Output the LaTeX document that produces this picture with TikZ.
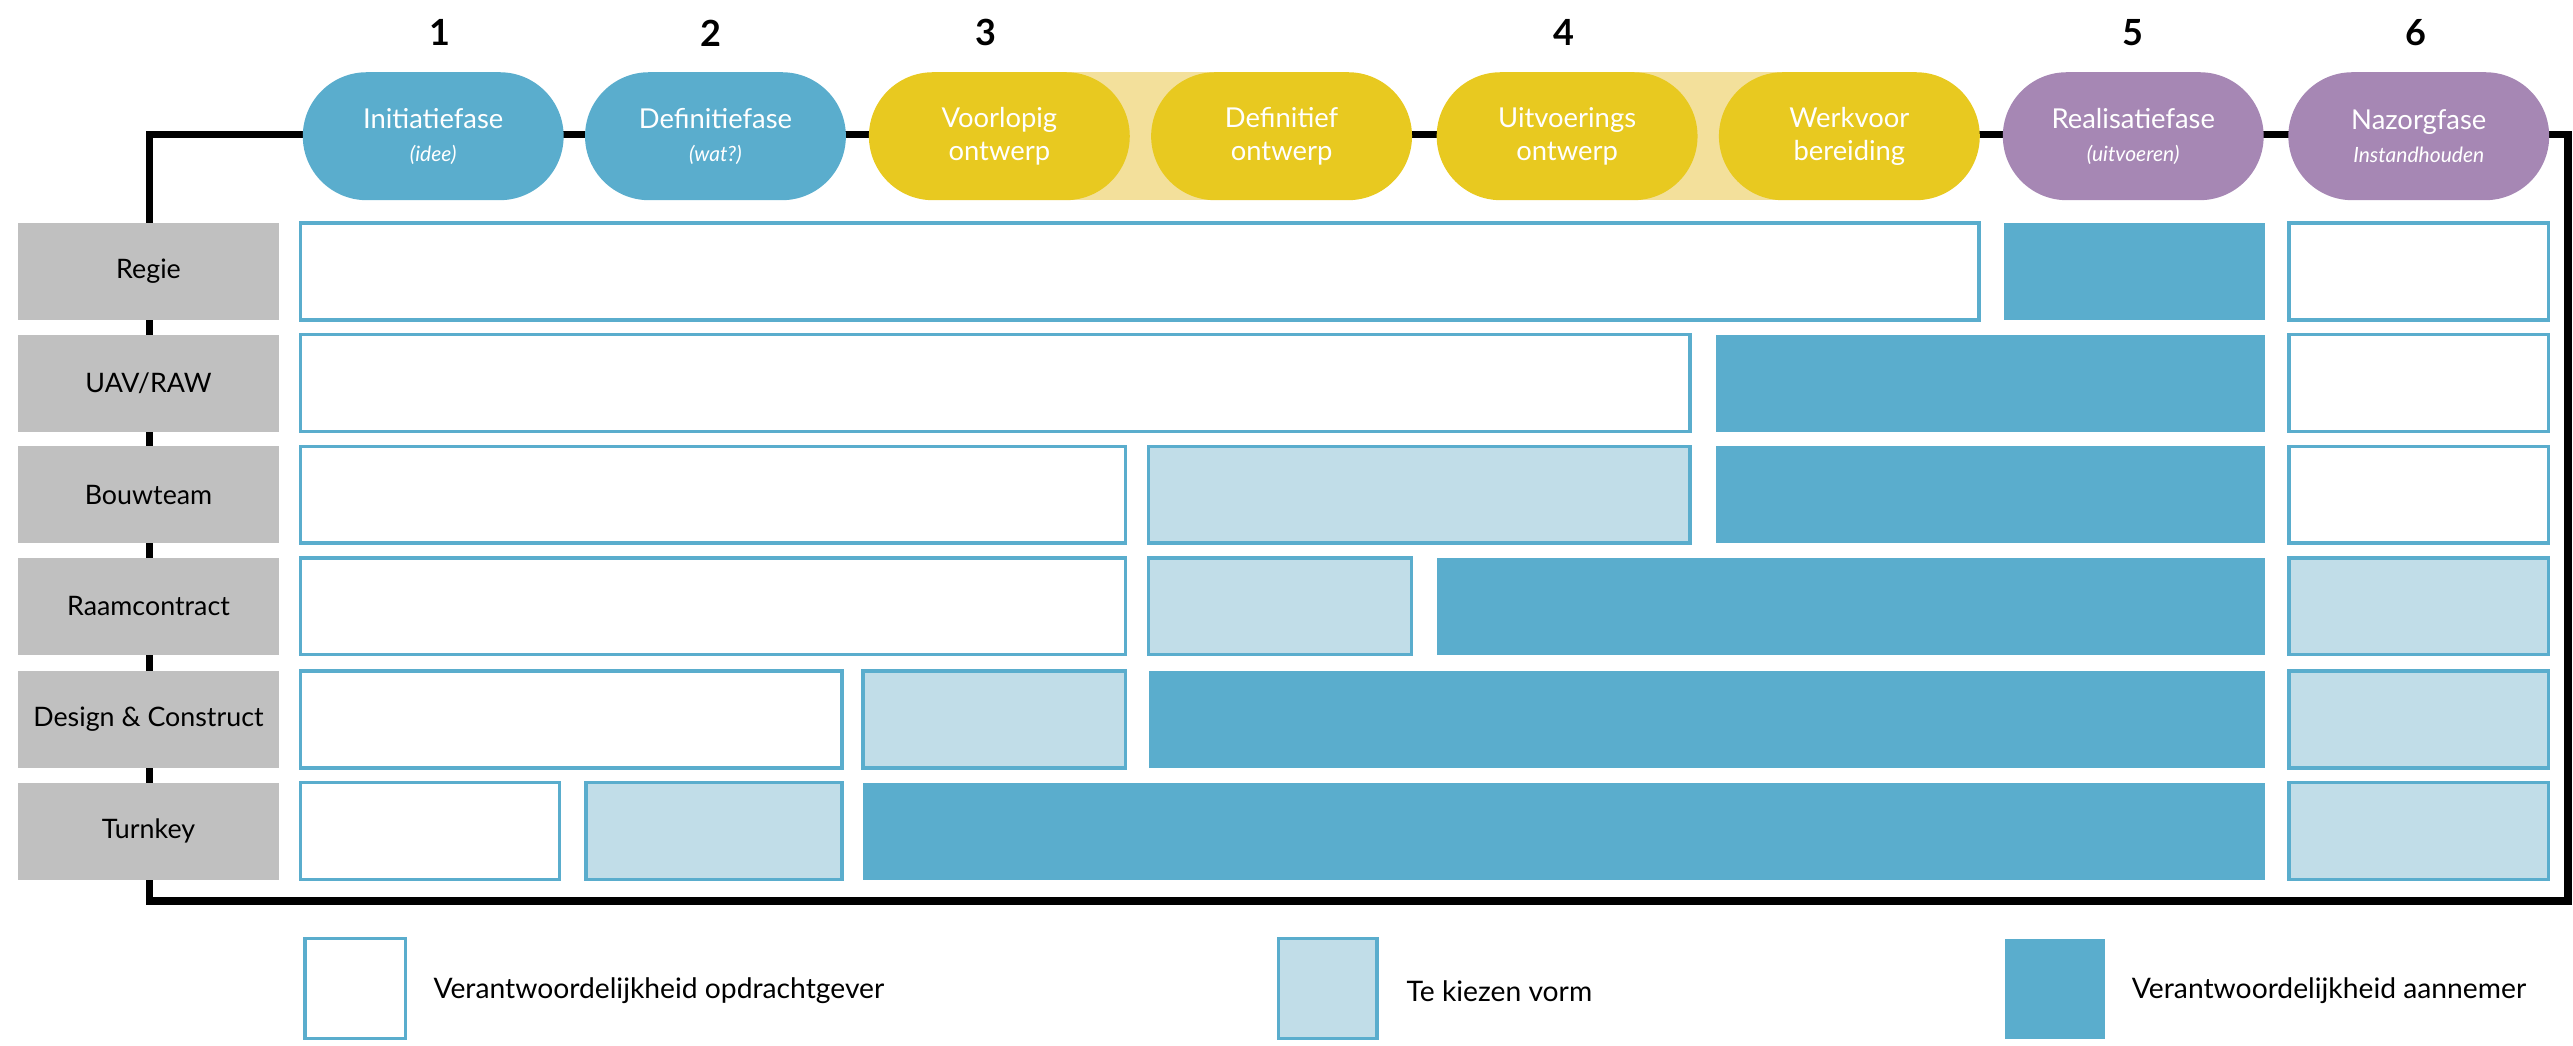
\documentclass[tikz,border=0pt]{standalone}
\usepackage{fontspec}
\setmainfont{Lato}
\usetikzlibrary{shapes.misc}

\definecolor{fasblauw}{HTML}{5AADCD}
\definecolor{lichtblauw}{HTML}{C1DDE8}
\definecolor{fasgeel}{HTML}{E8C920}
\definecolor{lichtgeel}{HTML}{F3E09B}
\definecolor{faspaars}{HTML}{A687B4}
\definecolor{labelgrijs}{HTML}{C0C0C0}

\tikzset{
  phase/.style={rounded rectangle, minimum width=3.18cm, minimum height=1.56cm, inner sep=0pt, text=white, align=center, font=\fontsize{9.5}{11.5}\selectfont},
  contract/.style={fill=labelgrijs, minimum width=3.18cm, minimum height=1.18cm, inner sep=0pt, font=\fontsize{9.3}{11}\selectfont},
  num/.style={font=\fontsize{12.5}{14}\selectfont\bfseries},
  legend/.style={anchor=west, font=\fontsize{9.8}{12}\selectfont},
  client/.style={draw=fasblauw, line width=1.2pt, fill=white},
  choice/.style={draw=fasblauw, line width=1.2pt, fill=lichtblauw},
  contractor/.style={fill=fasblauw},
}
\newcommand{\sub}[1]{{\fontsize{7.3}{9}\selectfont\itshape #1}}

\begin{document}
\begin{tikzpicture}[x=0.02cm, y=-0.02cm]
\useasboundingbox (0,0) rectangle (1568,637);

% frame
\coordinate (tl) at (91,82);
\coordinate (br) at (1565,549);
\draw[line width=2.6pt] (tl) rectangle (br);

% phases
\fill[lichtgeel] (609,44) rectangle (781,122);
\fill[lichtgeel] (955,44) rectangle (1127,122);

\node[phase, fill=fasblauw] (ini) at (264,83) {Initiatiefase\\\sub{(idee)}};
\node[phase, fill=fasblauw] (def) at (436,83) {Definitiefase\\\sub{(wat?)}};
\node[phase, fill=fasgeel] (vo) at (609,83) {Voorlopig\\ontwerp};
\node[phase, fill=fasgeel] (do) at (781,83) {Definitief\\ontwerp};
\node[phase, fill=fasgeel] (uo) at (955,83) {Uitvoerings\\ontwerp};
\node[phase, fill=fasgeel] (wvb) at (1127,83) {Werkvoor\\bereiding};
\node[phase, fill=faspaars] (real) at (1300,83) {Realisatiefase\\\sub{(uitvoeren)}};
\node[phase, fill=faspaars] (naz) at (1474,83) {Nazorgfase\\\sub{Instandhouden}};

\node[num] (n1) at (268,20) {1};
\node[num] (n2) at (433,20) {2};
\node[num] (n3) at (601,20) {3};
\node[num] (n4) at (953,20) {4};
\node[num] (n5) at (1300,20) {5};
\node[num] (n6) at (1472,20) {6};

% contractvormen
\node[contract] (regie) at (90.5,165.5) {Regie};
\node[contract] (uav) at (90.5,233.5) {UAV/RAW};
\node[contract] (bouw) at (90.5,301.5) {Bouwteam};
\node[contract] (raam) at (90.5,369.5) {Raamcontract};
\node[contract] (dc) at (90.5,438.5) {Design \& Construct};
\node[contract] (turn) at (90.5,506.5) {Turnkey};

% Regie
\draw[client] (183,136) rectangle (1206,195);
\fill[contractor] (1221,136) rectangle (1380,195);
\draw[client] (1395,136) rectangle (1553,195);
% UAV/RAW
\draw[client] (183,204) rectangle (1030,263);
\fill[contractor] (1046,204) rectangle (1380,263);
\draw[client] (1395,204) rectangle (1553,263);
% Bouwteam
\draw[client] (183,272) rectangle (686,331);
\draw[choice] (700,272) rectangle (1030,331);
\fill[contractor] (1046,272) rectangle (1380,331);
\draw[client] (1395,272) rectangle (1553,331);
% Raamcontract
\draw[client] (183,340) rectangle (686,399);
\draw[choice] (700,340) rectangle (860,399);
\fill[contractor] (876,340) rectangle (1380,399);
\draw[choice] (1395,340) rectangle (1553,399);
% Design & Construct
\draw[client] (183,409) rectangle (513,468);
\draw[choice] (526,409) rectangle (686,468);
\fill[contractor] (700,409) rectangle (1380,468);
\draw[choice] (1395,409) rectangle (1553,468);
% Turnkey
\draw[client] (183,477) rectangle (341,536);
\draw[choice] (357,477) rectangle (513,536);
\fill[contractor] (526,477) rectangle (1380,536);
\draw[choice] (1395,477) rectangle (1553,536);

% legenda
\draw[client] (186,572) rectangle (247,633);
\node[legend] (leg1) at (258,604) {Verantwoordelijkheid opdrachtgever};
\draw[choice] (779,572) rectangle (839,633);
\node[legend] (leg2) at (851,604) {Te kiezen vorm};
\fill[contractor] (1222,572) rectangle (1283,633);
\node[legend] (leg3) at (1293,604) {Verantwoordelijkheid aannemer};

\end{tikzpicture}
\end{document}
